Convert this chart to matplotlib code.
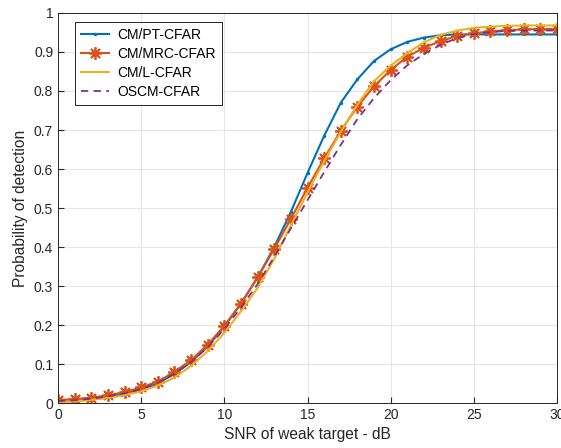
import numpy as np
import matplotlib.pyplot as plt

plt.rcParams['font.family'] = ['Liberation Sans', 'DejaVu Sans']

snr = np.arange(0, 31)

pd_pt = [0.003, 0.005, 0.010, 0.016, 0.024, 0.035, 0.050, 0.075, 0.105, 0.145,
         0.196, 0.255, 0.322, 0.400, 0.490, 0.590, 0.685, 0.770, 0.830, 0.877,
         0.907, 0.926, 0.937, 0.943, 0.945, 0.945, 0.945, 0.945, 0.945, 0.945,
         0.945]
pd_mrc = [0.008, 0.010, 0.014, 0.020, 0.028, 0.040, 0.055, 0.080, 0.110, 0.150,
          0.198, 0.255, 0.322, 0.395, 0.472, 0.552, 0.627, 0.698, 0.760, 0.812,
          0.854, 0.888, 0.911, 0.928, 0.941, 0.948, 0.953, 0.956, 0.958, 0.959,
          0.959]
pd_l = [0.002, 0.004, 0.008, 0.013, 0.020, 0.030, 0.045, 0.065, 0.095, 0.133,
        0.180, 0.235, 0.295, 0.370, 0.455, 0.540, 0.620, 0.695, 0.765, 0.825,
        0.865, 0.897, 0.925, 0.944, 0.955, 0.962, 0.965, 0.967, 0.968, 0.968,
        0.968]
pd_os = [0.005, 0.007, 0.011, 0.017, 0.025, 0.036, 0.052, 0.075, 0.105, 0.143,
         0.190, 0.245, 0.305, 0.375, 0.448, 0.520, 0.592, 0.662, 0.728, 0.782,
         0.828, 0.866, 0.895, 0.918, 0.936, 0.946, 0.951, 0.954, 0.955, 0.955,
         0.955]

fig = plt.figure(figsize=(5.61, 4.48), dpi=100)
ax = fig.add_axes([0.1034, 0.1004, 0.8895, 0.8706])

# asterisk markers: 8 arms, like + and x drawn together
ax.plot(snr, pd_pt, color='#0072BD', lw=1.5, marker='.', ms=3, label='CM/PT-CFAR')
ax.plot(snr, pd_mrc, color='#D95319', lw=1.5, marker=(8, 2, 0), ms=9, mew=1.3,
        label='CM/MRC-CFAR')
ax.plot(snr, pd_l, color='#EDB120', lw=1.5, label='CM/L-CFAR')
ax.plot(snr, pd_os, color='#7E2F8E', lw=1.3, ls=(0, (4, 3)), label='OSCM-CFAR')

ax.set_xlim(0, 30)
ax.set_ylim(0, 1)
ax.set_xticks(np.arange(0, 31, 5))
ax.set_yticks(np.arange(0, 1.01, 0.1))
ax.set_yticklabels(['0', '0.1', '0.2', '0.3', '0.4', '0.5', '0.6', '0.7', '0.8', '0.9', '1'])
ax.grid(True, color='#e6e6e6', lw=0.8)
ax.set_axisbelow(True)
ax.tick_params(labelsize=10, direction='in', length=4, color='#262626', labelcolor='#262626')
for s in ax.spines.values():
    s.set_color('#262626')
    s.set_linewidth(0.7)

ax.set_xlabel('SNR of weak target - dB', fontsize=11.2, color='#262626')
ax.set_ylabel('Probability of detection', fontsize=11.2, color='#262626')

leg = ax.legend(loc='upper left', bbox_to_anchor=(0.034, 0.977), borderaxespad=0,
                fontsize=10, fancybox=False, edgecolor='#262626', framealpha=1,
                handlelength=2.0, handletextpad=0.6, borderpad=0.45,
                labelspacing=0.35)
leg.get_frame().set_linewidth(0.7)

plt.savefig('out.png', dpi=100)
